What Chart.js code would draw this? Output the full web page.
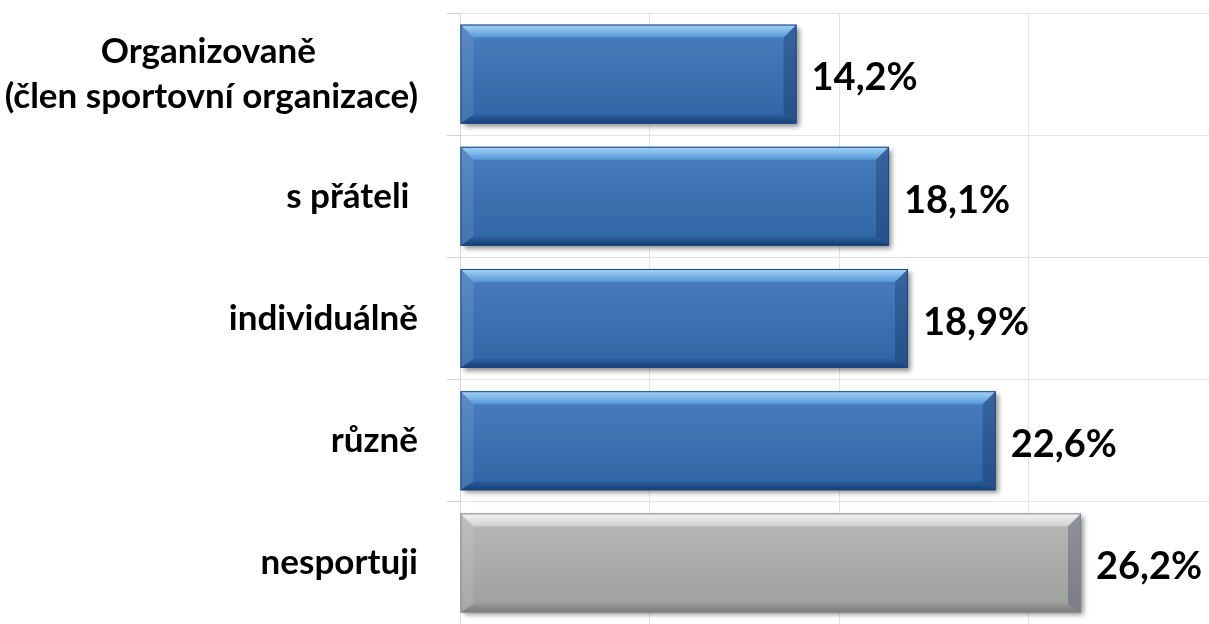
<!DOCTYPE html>
<html>
<head>
<meta charset="utf-8">
<script src="https://cdn.jsdelivr.net/npm/chart.js@4"></script>
<style>
  html, body { margin: 0; padding: 0; background: #fff; overflow: hidden; }
  #chart { display: block; }
</style>
</head>
<body>
<canvas id="chart" width="1209" height="624"></canvas>
<script>
const categories = [
    ['Organizovaně', '(člen sportovní organizace)'],
    's přáteli ',
    'individuálně',
    'různě',
    'nesportuji'
];
const values = [14.2, 18.1, 18.9, 22.6, 26.2];
const grayBars = [false, false, false, false, true];
const gridStep = 8;
const axisMax = 31.6;

const LABEL_FONT = 'bold 35px Lato';
const VALUE_FONT = 'bold 38px Lato';

const palette = {
    blue: { face: '#3470b8', top: ['#a6d6f7', '#5496d8'], bottom: ['#2a5f9e', '#163f73'], edge: '#1c4680' },
    gray: { face: '#b0b0b0', top: ['#f4f4f4', '#cfcfcf'], bottom: ['#999999', '#7a7a7a'], edge: '#858585' }
};

// Excel centers the lines of a wrapped label; pad shorter lines so they sit centered when right aligned
const measureCtx = document.createElement('canvas').getContext('2d');
function centerLines(lines) {
    measureCtx.font = LABEL_FONT;
    const space = measureCtx.measureText(' ').width;
    const widths = lines.map(l => measureCtx.measureText(l).width);
    const widest = Math.max(...widths);
    return lines.map((l, i) => l + ' '.repeat(Math.round((widest - widths[i]) / 2 / space)));
}

function barBox(bar) {
    const h = bar.height;
    return { l: Math.min(bar.x, bar.base), r: Math.max(bar.x, bar.base), t: bar.y - h / 2, b: bar.y + h / 2 };
}

const bevelPlugin = {
    id: 'bevel',
    beforeDatasetsDraw(chart) {
        const ctx = chart.ctx;
        chart.getDatasetMeta(0).data.forEach((bar, i) => {
            const { l, r, t, b } = barBox(bar);
            ctx.save();
            ctx.shadowColor = 'rgba(0,0,0,0.45)';
            ctx.shadowBlur = 5;
            ctx.shadowOffsetX = 3;
            ctx.shadowOffsetY = 3;
            ctx.fillStyle = grayBars[i] ? palette.gray.face : palette.blue.face;
            ctx.fillRect(l, t, r - l, b - t);
            ctx.restore();
        });
    },
    afterDatasetsDraw(chart) {
        const ctx = chart.ctx;
        chart.getDatasetMeta(0).data.forEach((bar, i) => {
            const c = grayBars[i] ? palette.gray : palette.blue;
            const { l, r, t, b } = barBox(bar);
            const bt = 13, bb = 9, bs = 13;
            ctx.save();

            // face shading
            let g = ctx.createLinearGradient(0, t, 0, b);
            g.addColorStop(0, 'rgba(255,255,255,0.10)');
            g.addColorStop(1, 'rgba(0,0,0,0.10)');
            ctx.fillStyle = g;
            ctx.fillRect(l, t, r - l, b - t);

            // top bevel
            g = ctx.createLinearGradient(0, t, 0, t + bt);
            g.addColorStop(0, c.top[0]);
            g.addColorStop(1, c.top[1]);
            ctx.fillStyle = g;
            ctx.beginPath();
            ctx.moveTo(l, t); ctx.lineTo(r, t); ctx.lineTo(r - bs, t + bt); ctx.lineTo(l + bs, t + bt);
            ctx.closePath(); ctx.fill();

            // bottom bevel
            g = ctx.createLinearGradient(0, b - bb, 0, b);
            g.addColorStop(0, c.bottom[0]);
            g.addColorStop(1, c.bottom[1]);
            ctx.fillStyle = g;
            ctx.beginPath();
            ctx.moveTo(l, b); ctx.lineTo(r, b); ctx.lineTo(r - bs, b - bb); ctx.lineTo(l + bs, b - bb);
            ctx.closePath(); ctx.fill();

            // left bevel
            ctx.fillStyle = 'rgba(255,255,255,0.10)';
            ctx.beginPath();
            ctx.moveTo(l, t); ctx.lineTo(l + bs, t + bt); ctx.lineTo(l + bs, b - bb); ctx.lineTo(l, b);
            ctx.closePath(); ctx.fill();

            // right bevel
            ctx.fillStyle = 'rgba(0,10,40,0.22)';
            ctx.beginPath();
            ctx.moveTo(r, t); ctx.lineTo(r - bs, t + bt); ctx.lineTo(r - bs, b - bb); ctx.lineTo(r, b);
            ctx.closePath(); ctx.fill();

            ctx.strokeStyle = c.edge;
            ctx.lineWidth = 1;
            ctx.strokeRect(l + 0.5, t + 0.5, r - l - 1, b - t - 1);

            // value label
            ctx.fillStyle = '#000';
            ctx.font = VALUE_FONT;
            ctx.textAlign = 'left';
            ctx.textBaseline = 'middle';
            ctx.fillText(values[i].toFixed(1).replace('.', ',') + '%', r + 15, bar.y + 4);
            ctx.restore();
        });
    }
};

new Chart(document.getElementById('chart'), {
    type: 'bar',
    data: {
        labels: categories,
        datasets: [{
            data: values,
            backgroundColor: 'rgba(0,0,0,0)',
            borderWidth: 0,
            categoryPercentage: 1,
            barPercentage: 0.81
        }]
    },
    options: {
        indexAxis: 'y',
        responsive: false,
        animation: false,
        layout: { padding: { top: 13, right: 0, bottom: 0, left: 0 } },
        plugins: {
            legend: { display: false },
            tooltip: { enabled: false }
        },
        scales: {
            x: {
                min: 0,
                max: axisMax,
                ticks: { display: false, stepSize: gridStep },
                border: { display: false },
                grid: {
                    drawTicks: false,
                    color: (c) => (c.tick && c.tick.value % gridStep === 0) ? '#e2e2ea' : 'rgba(0,0,0,0)'
                }
            },
            y: {
                afterFit: (scale) => {
                    scale.width = 460;
                    scale.paddingTop = 0;
                    scale.paddingBottom = 0;
                },
                border: { color: '#d6d6de' },
                grid: {
                    color: '#e2e2ea',
                    tickColor: '#d0d0d8',
                    tickLength: 13,
                    offset: true
                },
                ticks: {
                    padding: 29,
                    color: '#000',
                    font: { family: 'Lato', size: 35, weight: 'bold', lineHeight: 1.3 },
                    callback: function (value) {
                        const lbl = this.getLabelForValue(value);
                        return Array.isArray(lbl) ? centerLines(lbl) : lbl;
                    }
                }
            }
        }
    },
    plugins: [bevelPlugin]
});
</script>
</body>
</html>
